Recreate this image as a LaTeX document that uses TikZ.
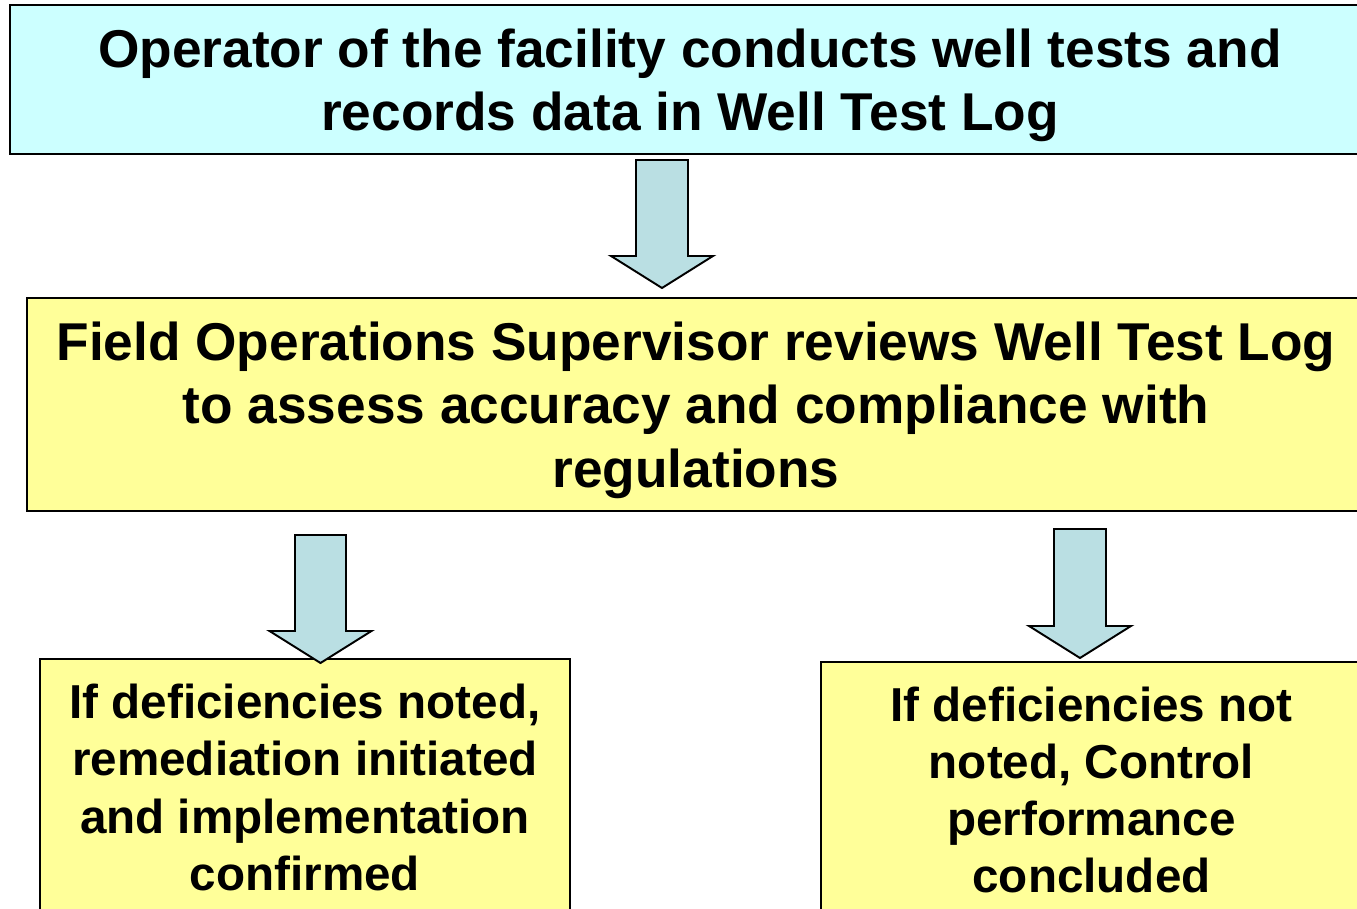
\documentclass[tikz,border=0pt]{standalone}
\usepackage{fontspec}
\setmainfont{Liberation Sans}
\usetikzlibrary{calc}

\begin{document}
\begin{tikzpicture}[x=0.02cm,y=-0.02cm,line join=miter]

    \definecolor{logcolor}{HTML}{CCFFFF}
    \definecolor{reviewcolor}{HTML}{FFFF99}
    \definecolor{arrowcolor}{HTML}{BADFE3}

    \tikzset{
      box/.style={draw=black,line width=1.1pt,inner sep=0pt,align=center,font=\bfseries},
      bigtext/.style={font=\bfseries\fontsize{30.3}{36}\selectfont,text depth=0pt},
      smalltext/.style={font=\bfseries\fontsize{27.1}{32.6}\selectfont},
      blockarrow/.style={draw=black,line width=1.1pt,fill=arrowcolor}
    }

    \useasboundingbox (0,0) rectangle (1357,909);
    \clip (0,0) rectangle (1357,909);

    \node[box,bigtext,fill=logcolor,minimum width=27.2cm,minimum height=2.98cm] (log) at (690,79.5)
      {Operator of the facility conducts well tests and\\records data in Well Test Log};

    \node[box,bigtext,fill=reviewcolor,minimum width=26.76cm,minimum height=4.26cm] (review) at (696,404.5)
      {Field Operations Supervisor reviews Well Test Log\\to assess accuracy and compliance with\\regulations};

    \node[box,smalltext,fill=reviewcolor,minimum width=10.6cm,minimum height=5.14cm] (noted) at (305,787.5)
      {If deficiencies noted,\\remediation initiated\\and implementation\\confirmed};

    \node[box,smalltext,fill=reviewcolor,minimum width=10.82cm,minimum height=5.12cm] (notnoted) at (1091.5,790)
      {If deficiencies not\\noted, Control\\performance\\concluded};

    % block arrows between the boxes
    \coordinate (a1) at (662,160);   \coordinate (t1) at (662,288);
    \coordinate (a2) at (320.5,535); \coordinate (t2) at (320.5,663);
    \coordinate (a3) at (1080,529);  \coordinate (t3) at (1080,658);

    \draw[blockarrow] ($(a1)+(-26,0)$) -- ($(a1)+(26,0)$) -- ($(t1)+(26,-32)$) -- ($(t1)+(51,-32)$)
      -- (t1) -- ($(t1)+(-51,-32)$) -- ($(t1)+(-26,-32)$) -- cycle;

    \draw[blockarrow] ($(a2)+(-25.5,0)$) -- ($(a2)+(25.5,0)$) -- ($(t2)+(25.5,-32)$) -- ($(t2)+(51,-32)$)
      -- (t2) -- ($(t2)+(-51,-32)$) -- ($(t2)+(-25.5,-32)$) -- cycle;

    \draw[blockarrow] ($(a3)+(-26,0)$) -- ($(a3)+(26,0)$) -- ($(t3)+(26,-32)$) -- ($(t3)+(51,-32)$)
      -- (t3) -- ($(t3)+(-51,-32)$) -- ($(t3)+(-26,-32)$) -- cycle;

\end{tikzpicture}
\end{document}
